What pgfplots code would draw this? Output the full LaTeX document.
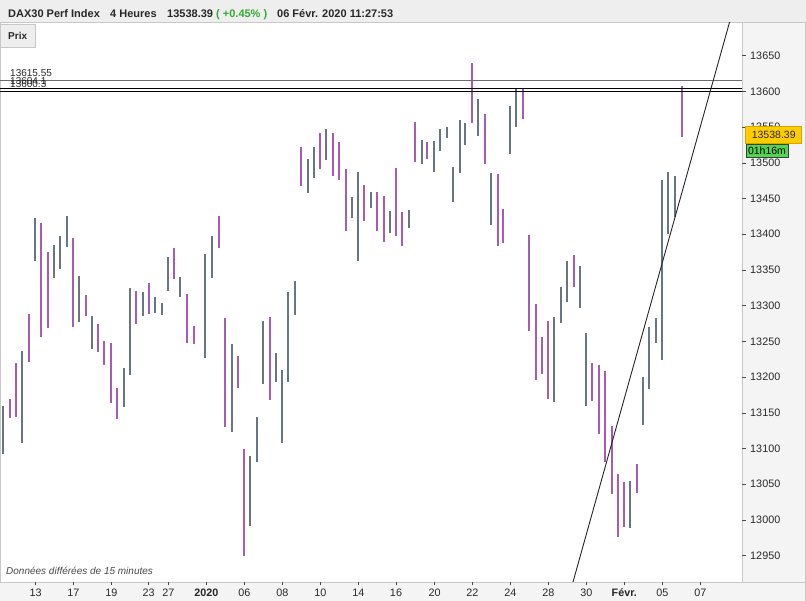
\documentclass[border=0pt]{standalone}
\usepackage{pgfplots}
\pgfplotsset{compat=1.18}
\usepackage{fontspec}
\setmainfont{Liberation Sans}
\definecolor{bargrey}{RGB}{104,118,132}
\definecolor{barpurple}{RGB}{166,92,180}
\definecolor{hdrbg}{RGB}{238,238,238}
\definecolor{panelbg}{RGB}{244,244,244}
\definecolor{bordc}{RGB}{200,200,200}
\definecolor{txt}{RGB}{40,40,40}
\definecolor{upgreen}{RGB}{50,170,50}
\definecolor{yelbox}{RGB}{255,204,0}
\definecolor{yelbord}{RGB}{215,165,0}
\definecolor{greenbox}{RGB}{80,215,80}
\begin{document}
\begin{tikzpicture}[x=1pt,y=1pt]
\useasboundingbox (0,0) rectangle (806,601);
\fill[white] (0,0) rectangle (806,601);
\fill[panelbg] (742,19) rectangle (806,579);
\fill[panelbg] (0,0) rectangle (806,19);
\fill[hdrbg] (0,579) rectangle (806,601);
\draw[bordc,line width=0.8pt] (0,579)--(806,579);
\draw[bordc,line width=0.8pt] (0,19)--(806,19);
\draw[bordc,line width=0.8pt] (742,19)--(742,579);
\draw[bordc,line width=0.8pt] (0.6,19)--(0.6,579);
\draw[bordc,line width=0.8pt] (805.4,0)--(805.4,579);
% header
\node[anchor=base west,inner sep=0,font=\bfseries\fontsize{11}{13}\selectfont,text=txt] at (8,583.2) {DAX30 Perf Index};
\node[anchor=base west,inner sep=0,font=\bfseries\fontsize{11}{13}\selectfont,text=txt] at (110,583.2) {4 Heures};
\node[anchor=base west,inner sep=0,font=\bfseries\fontsize{11}{13}\selectfont,text=txt] at (167,583.2) {13538.39};
\node[anchor=base west,inner sep=0,font=\bfseries\fontsize{11}{13}\selectfont,text=upgreen] at (216,583.2) {( +0.45\% )};
\node[anchor=base west,inner sep=0,font=\bfseries\fontsize{11}{13}\selectfont,text=txt] at (277,583.2) {06 Févr. 2020 11:27:53};
% Prix button
\filldraw[fill=hdrbg,draw=bordc,line width=0.8pt] (0,554) rectangle (35,577);
\node[anchor=base west,inner sep=0,font=\bfseries\fontsize{10}{12}\selectfont,text=txt] at (8,561.7) {Prix};
\begin{axis}[at={(0pt,19pt)}, anchor=south west, scale only axis,
  width=742pt, height=560pt,
  xmin=0, xmax=742, ymin=12913.2, ymax=13697.2,
  axis line style={draw=none},
  unbounded coords=jump,
  xtick={35.7,73.3,111.3,148.7,168.3,206.3,244.3,282.3,320.3,358.3,396,434.7,472.3,510.3,548.3,586.3,624.3,662.3,700.3},
  xticklabels={13,17,19,23,27,\textbf{2020},06,08,10,14,16,20,22,24,28,30,\textbf{Févr.},05,07},
  xtick pos=left, xticklabel pos=left,
  ytick={12950,13000,...,13650},
  ytick pos=right, yticklabel pos=right,
  tick align=outside, major tick length=3.5pt,
  tick style={draw=txt!85, line width=0.7pt},
  ticklabel style={font=\fontsize{10.8}{12}\selectfont, text=txt},
  yticklabel style={xshift=1.2pt},
  scaled y ticks=false,
  /pgf/number format/1000 sep={},
  /pgf/number format/assume math mode=true,
]
% grey (up) bars
\addplot[bargrey, line width=2pt] coordinates {
(3,13092)(3,13160)(3,nan)
(22,13107.8)(22,13236.6)(22,nan)
(35,13362.6)(35,13422.8)(35,nan)
(54,13338.8)(54,13385)(54,nan)
(60,13351.4)(60,13397.6)(60,nan)
(67,13382.2)(67,13425.6)(67,nan)
(79,13277.2)(79,13341.6)(79,nan)
(92,13239.4)(92,13285.6)(92,nan)
(124,13158.2)(124,13212.8)(124,nan)
(130,13203)(130,13324.8)(130,nan)
(143,13285.6)(143,13319.2)(143,nan)
(155,13289.8)(155,13312.2)(155,nan)
(162,13287)(162,13303.8)(162,nan)
(168,13320.6)(168,13368.2)(168,nan)
(180,13312.2)(180,13340.2)(180,nan)
(205,13226.8)(205,13372.4)(205,nan)
(212,13338.8)(212,13397.6)(212,nan)
(232,13123.2)(232,13246.4)(232,nan)
(250,12991.6)(250,13089.6)(250,nan)
(257,13081.2)(257,13144.2)(257,nan)
(263,13190.4)(263,13278.6)(263,nan)
(276,13193.2)(276,13233.8)(276,nan)
(282,13107.8)(282,13210)(282,nan)
(288,13193.2)(288,13319.2)(288,nan)
(295,13287)(295,13334.6)(295,nan)
(308,13457.8)(308,13505.4)(308,nan)
(314,13478.8)(314,13522.2)(314,nan)
(326,13504)(326,13547.4)(326,nan)
(352,13422.8)(352,13452.2)(352,nan)
(358,13362.6)(358,13487.2)(358,nan)
(371,13436.8)(371,13459.2)(371,nan)
(390,13401.8)(390,13432.6)(390,nan)
(409,13408.8)(409,13434)(409,nan)
(422,13498.4)(422,13532)(422,nan)
(434,13487.2)(434,13530.6)(434,nan)
(440,13516.6)(440,13547.4)(440,nan)
(447,13534.8)(447,13550.2)(447,nan)
(453,13445.2)(453,13494.2)(453,nan)
(460,13485.8)(460,13560)(460,nan)
(465,13525)(465,13555.8)(465,nan)
(478,13537.6)(478,13589.4)(478,nan)
(491,13413)(491,13485.8)(491,nan)
(510,13512.4)(510,13579.6)(510,nan)
(516,13550.2)(516,13604.8)(516,nan)
(554,13165.2)(554,13284.2)(554,nan)
(561,13275.8)(561,13326.2)(561,nan)
(567,13305.2)(567,13362.6)(567,nan)
(580,13296.8)(580,13355.6)(580,nan)
(586,13159.6)(586,13261.8)(586,nan)
(630,12988.8)(630,13054.6)(630,nan)
(643,13133)(643,13200.2)(643,nan)
(649,13183.4)(649,13270.2)(649,nan)
(656,13247.8)(656,13282.8)(656,nan)
(662,13224)(662,13476)(662,nan)
(668,13400.4)(668,13487.2)(668,nan)
(675,13424.2)(675,13481.6)
};
% purple (down) bars
\addplot[barpurple, line width=2pt] coordinates {
(10,13142.8)(10,13169.4)(10,nan)
(16,13144.2)(16,13219.8)(16,nan)
(29,13221.2)(29,13288.4)(29,nan)
(41,13256.2)(41,13415.8)(41,nan)
(48,13268.8)(48,13375.2)(48,nan)
(73,13270.2)(73,13394.8)(73,nan)
(86,13285.6)(86,13315)(86,nan)
(98,13235.2)(98,13274.4)(98,nan)
(104,13217)(104,13250.6)(104,nan)
(111,13163.8)(111,13247.8)(111,nan)
(117,13141.4)(117,13184.8)(117,nan)
(136,13274.4)(136,13320.6)(136,nan)
(149,13288.4)(149,13331.8)(149,nan)
(174,13337.4)(174,13380.8)(174,nan)
(187,13247.8)(187,13316.4)(187,nan)
(194,13246.4)(194,13271.6)(194,nan)
(219,13380.8)(219,13425.6)(219,nan)
(225,13130.2)(225,13282.8)(225,nan)
(238,13184.8)(238,13229.6)(238,nan)
(244,12949.6)(244,13099.4)(244,nan)
(270,13168)(270,13284.2)(270,nan)
(301,13467.6)(301,13522.2)(301,nan)
(320,13491.4)(320,13541.8)(320,nan)
(333,13481.6)(333,13541.8)(333,nan)
(339,13476)(339,13529.2)(339,nan)
(346,13404.6)(346,13491.4)(346,nan)
(364,13418.6)(364,13469)(364,nan)
(377,13404.6)(377,13459.2)(377,nan)
(384,13389.2)(384,13453.6)(384,nan)
(396,13397.6)(396,13492.8)(396,nan)
(402,13383.6)(402,13431.2)(402,nan)
(415,13501.2)(415,13557.2)(415,nan)
(427,13505.4)(427,13529.2)(427,nan)
(472,13555.8)(472,13639.8)(472,nan)
(485,13498.4)(485,13568.4)(485,nan)
(498,13383.6)(498,13484.4)(498,nan)
(503,13387.8)(503,13435.4)(503,nan)
(523,13561.4)(523,13603.4)(523,nan)
(529,13264.6)(529,13399)(529,nan)
(536,13196)(536,13302.4)(536,nan)
(542,13204.4)(542,13256.2)(542,nan)
(548,13169.4)(548,13278.6)(548,nan)
(574,13326.2)(574,13371)(574,nan)
(592,13166.6)(592,13219.8)(592,nan)
(599,13120.4)(599,13217)(599,nan)
(605,13081.2)(605,13208.6)(605,nan)
(612,13036.4)(612,13131.6)(612,nan)
(618,12976.2)(618,13064.4)(618,nan)
(624,12990.2)(624,13053.2)(624,nan)
(637,13037.8)(637,13078.4)(637,nan)
(682,13536.2)(682,13607.6)
};
% horizontal levels
\addplot[gray!85!black, line width=0.8pt] coordinates {(0,13615.55)(742,13615.55)};
\addplot[black, line width=0.8pt] coordinates {(0,13604.1)(742,13604.1)};
\addplot[black, line width=0.8pt] coordinates {(0,13600.3)(742,13600.3)};
% trend line
\addplot[black!85, line width=0.9pt] coordinates {(573,12913.2)(729.6,13697.2)};
\node[anchor=base west,inner sep=0,font=\fontsize{10}{12}\selectfont,text=txt,yshift=3.5pt] at (axis cs:10,13615.55) {13615.55};
\node[anchor=base west,inner sep=0,font=\fontsize{10}{12}\selectfont,text=txt,yshift=3.5pt] at (axis cs:10,13604.1) {13604.1};
\node[anchor=base west,inner sep=0,font=\fontsize{10}{12}\selectfont,text=txt,yshift=3.5pt] at (axis cs:10,13600.3) {13600.3};
\end{axis}
% footnote
\node[anchor=west,inner sep=0,font=\itshape\fontsize{10}{12}\selectfont,text=txt!85] at (6,30) {Données différées de 15 minutes};
% price boxes
\filldraw[fill=yelbox,draw=yelbord,line width=0.7pt] (745.7,458) rectangle (801.7,475);
\node[font=\fontsize{10.5}{12}\selectfont,text=txt,inner sep=0] at (773.7,466.5) {13538.39};
\filldraw[fill=greenbox,draw=black!75,line width=0.7pt] (746,443.3) rectangle (788,456.7);
\node[font=\fontsize{10.5}{12}\selectfont,text=black,inner sep=0] at (767,450) {01h16m};
\end{tikzpicture}
\end{document}
